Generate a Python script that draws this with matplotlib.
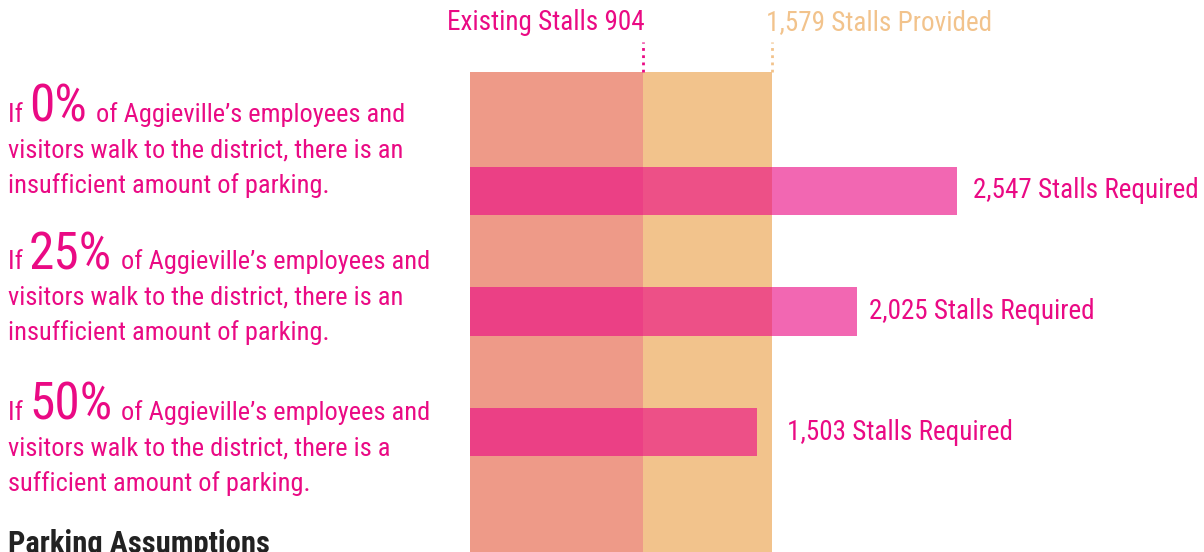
import matplotlib
matplotlib.use("Agg")
import matplotlib.pyplot as plt

# parking supply vs. demand for three walk-share scenarios
walk_share = ["0%", "25%", "50%"]
stalls_required = [2547, 2025, 1503]
existing_stalls = 904
provided_stalls = 1579
outcome = ["insufficient amount of parking.", "insufficient amount of parking.",
           "sufficient amount of parking."]
article = ["an", "an", "a"]

PINK = "#ea0a84"
PEACH = "#f2c38c"
SALMON = "#ee9a88"
FONT = ["Liberation Sans Narrow", "Roboto Condensed", "Liberation Sans", "DejaVu Sans"]
plt.rcParams["font.family"] = FONT

W, H = 1204, 552
fig = plt.figure(figsize=(W / 100, H / 100), dpi=100)
ax = fig.add_axes([0, 0, 1, 1])
ax.set_axis_off()

# x in stalls, y in scenario index (column starts at x=470px)
px_per_stall = (772 - 470) / provided_stalls
ax.set_xlim(-470 / px_per_stall, (W - 470) / px_per_stall)
px_per_row = 120.5
ax.set_ylim((H - 191) / px_per_row, -191 / px_per_row)

col_top = 1 - 72 / H
ax.axvspan(0, existing_stalls, ymin=0, ymax=col_top, color=SALMON, lw=0)
ax.axvspan(existing_stalls, provided_stalls, ymin=0, ymax=col_top, color=PEACH, lw=0)

ys = list(range(len(stalls_required)))
ax.barh(ys, stalls_required, height=0.4, color=PINK, alpha=0.62, lw=0)

label_dx = [16, 12, 30]
for y, v, dx in zip(ys, stalls_required, label_dx):
    ax.annotate(f"{v:,} Stalls Required", xy=(v, y), xytext=(dx, 0),
                textcoords="offset pixels", va="center", ha="left",
                color=PINK, fontsize=19.5)

# dotted leaders from the column top up to the headings
y_col = (72 - 191) / px_per_row
y_lead = (42 - 191) / px_per_row
ax.plot([existing_stalls] * 2, [y_col, y_lead], ls=(0, (1, 1.6)), lw=2, color=PINK)
ax.plot([provided_stalls] * 2, [y_col, y_lead], ls=(0, (1, 1.6)), lw=2, color=PEACH)
ax.annotate(f"Existing Stalls {existing_stalls}", xy=(existing_stalls, y_lead),
            xytext=(2, 6), textcoords="offset pixels", ha="right", va="bottom",
            color=PINK, fontsize=19.5)
ax.annotate(f"{provided_stalls:,} Stalls Provided", xy=(provided_stalls, y_lead),
            xytext=(-6, 6), textcoords="offset pixels", ha="left", va="bottom",
            color=PEACH, fontsize=19.5)


def fpos(x, y):
    return x / W, 1 - y / H


# scenario paragraphs on the left
renderer = fig.canvas.get_renderer()
para_base = [122, 269, 420]
line_gap = 35.5
body = 19
for share, base, res, art in zip(walk_share, para_base, outcome, article):
    x = 8
    for s, fs in [("If ", body), (share, 37), (" of Aggieville\u2019s employees and", body)]:
        t = fig.text(*fpos(x, base), s, fontsize=fs, color=PINK, va="baseline",
                     ha="left")
        x = t.get_window_extent(renderer).x1 + (3 if s == share else 0)
    fig.text(*fpos(8, base + line_gap),
             f"visitors walk to the district, there is {art}",
             fontsize=body, color=PINK, va="baseline")
    fig.text(*fpos(8, base + 2 * line_gap), res, fontsize=body, color=PINK,
             va="baseline")

fig.text(*fpos(8, 553), "Parking Assumptions", fontsize=22, color="#222222",
         fontweight="bold", va="baseline")

fig.savefig("out.png", dpi=100)
